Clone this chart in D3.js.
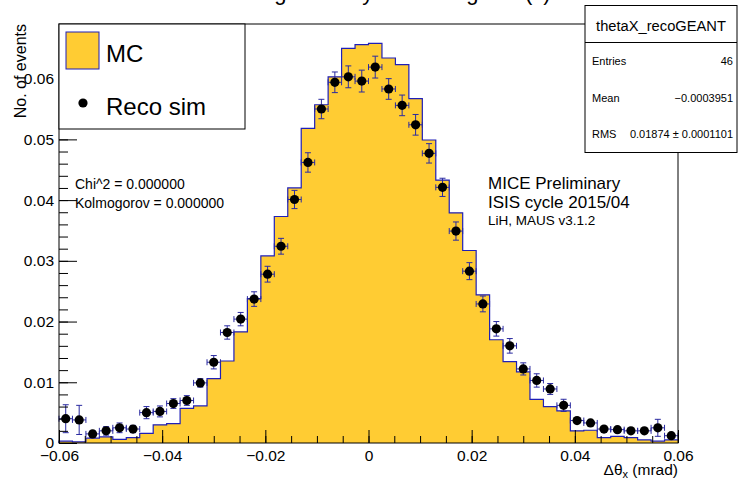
<!DOCTYPE html>
<html>
<head>
<meta charset="utf-8">
<script src="https://cdn.jsdelivr.net/npm/d3@7"></script>
<style>
  body { margin: 0; background: #fff; }
  text { font-family: "Liberation Sans", Arial, sans-serif; fill: #000; }
</style>
</head>
<body>
<script>
// 46 bins from -0.06 to 0.06
const binEdgesRange = [-0.06, 0.06];
const nBins = 46;

const mcValues = [
  0.0003, 0.0002, 0.0008, 0.0010, 0.0006, 0.0009, 0.0016, 0.0030, 0.0032, 0.0057,
  0.0061, 0.0106, 0.0135, 0.0183, 0.0238, 0.0308, 0.0373, 0.0420, 0.0518, 0.0557,
  0.0603, 0.0650, 0.0656, 0.0658, 0.0634, 0.0623, 0.0567, 0.0499, 0.0433, 0.0379,
  0.0317, 0.0244, 0.0170, 0.0134, 0.0117, 0.0072, 0.0060, 0.0053, 0.0020, 0.0021,
  0.0009, 0.0011, 0.0009, 0.0005, 0.0003, 0.0005
];

const recoValues = [
  0.0040, 0.0038, 0.0015, 0.0020, 0.0025, 0.0023, 0.0050, 0.0052, 0.0065, 0.0070,
  0.0099, 0.0133, 0.0182, 0.0204, 0.0237, 0.0278, 0.0324, 0.0401, 0.0462, 0.0550,
  0.0594, 0.0603, 0.0596, 0.0619, 0.0583, 0.0556, 0.0524, 0.0477, 0.0421, 0.0349,
  0.0283, 0.0229, 0.0188, 0.0160, 0.0122, 0.0103, 0.0089, 0.0062, 0.0037, 0.0033,
  0.0023, 0.0022, 0.0020, 0.0020, 0.0025, 0.0012
];

const recoErrors = [
  0.0023, 0.0024, 0.0005, 0.0007, 0.0008, 0.0006, 0.0010, 0.0009, 0.0008, 0.0008,
  0.0007, 0.0011, 0.0011, 0.0011, 0.0012, 0.0013, 0.0013, 0.0015, 0.0016, 0.0016,
  0.0017, 0.0018, 0.0018, 0.0018, 0.0017, 0.0017, 0.0017, 0.0016, 0.0015, 0.0015,
  0.0014, 0.0013, 0.0012, 0.0012, 0.0010, 0.0011, 0.0009, 0.0010, 0.0004, 0.0004,
  0.0003, 0.0003, 0.0003, 0.0003, 0.0014, 0.0003
];

const xMajorTicks = [-0.06, -0.04, -0.02, 0, 0.02, 0.04, 0.06];
const yMajorTicks = [0, 0.01, 0.02, 0.03, 0.04, 0.05, 0.06];

const width = 738, height = 481;
const frame = {left: 59, right: 678, top: 24, bottom: 443};
const yMax = 0.069;
const binWidth = (binEdgesRange[1] - binEdgesRange[0]) / nBins;

const x = d3.scaleLinear().domain(binEdgesRange).range([frame.left, frame.right]);
const y = d3.scaleLinear().domain([0, yMax]).range([frame.bottom, frame.top]);

const fillColor = "#ffcc33";
const lineColor = "#1f1fb8";
const errColor = "#2a2aa0";

const svg = d3.select("body").append("svg")
    .attr("width", width)
    .attr("height", height);

// title, mostly above the canvas
svg.append("text")
    .attr("x", width / 2)
    .attr("y", 0)
    .attr("text-anchor", "middle")
    .style("font-size", "22px")
    .text("Scattering Reco by Scattering MC (x)");

// MC histogram
const mcSteps = mcValues.map((v, i) => ({x: binEdgesRange[0] + i * binWidth, v: v}));
mcSteps.push({x: binEdgesRange[1], v: mcValues[nBins - 1]});

svg.append("path")
    .datum(mcSteps)
    .attr("fill", fillColor)
    .attr("d", d3.area().curve(d3.curveStepAfter)
        .x(d => x(d.x)).y0(y(0)).y1(d => y(d.v)));

const outline = [{x: binEdgesRange[0], v: 0}, ...mcSteps.slice(0, -1), {x: binEdgesRange[1], v: mcValues[nBins - 1]}];
svg.append("path")
    .datum(outline)
    .attr("fill", "none")
    .attr("stroke", lineColor)
    .attr("stroke-width", 1.2)
    .attr("d", d3.line().curve(d3.curveStepAfter).x(d => x(d.x)).y(d => y(d.v)));

// Reco points with error bars
const reco = recoValues.map((v, i) => ({
    c: binEdgesRange[0] + (i + 0.5) * binWidth, v: v, e: recoErrors[i]
}));

const pts = svg.append("g").selectAll("g").data(reco).enter().append("g");
pts.append("line")
    .attr("x1", d => x(d.c - binWidth / 2)).attr("x2", d => x(d.c + binWidth / 2))
    .attr("y1", d => y(d.v)).attr("y2", d => y(d.v))
    .attr("stroke", errColor);
pts.append("line")
    .attr("x1", d => x(d.c)).attr("x2", d => x(d.c))
    .attr("y1", d => y(d.v - d.e)).attr("y2", d => y(d.v + d.e))
    .attr("stroke", errColor);
// caps
pts.each(function (d) {
    const g = d3.select(this);
    [d.v - d.e, d.v + d.e].forEach(val => {
        g.append("line")
            .attr("x1", x(d.c) - 3).attr("x2", x(d.c) + 3)
            .attr("y1", y(val)).attr("y2", y(val))
            .attr("stroke", errColor);
    });
    [d.c - binWidth / 2, d.c + binWidth / 2].forEach(val => {
        g.append("line")
            .attr("x1", x(val)).attr("x2", x(val))
            .attr("y1", y(d.v) - 3).attr("y2", y(d.v) + 3)
            .attr("stroke", errColor);
    });
});
pts.append("circle")
    .attr("cx", d => x(d.c)).attr("cy", d => y(d.v))
    .attr("r", 4.6)
    .attr("fill", "#000");

// frame
svg.append("rect")
    .attr("x", frame.left).attr("y", frame.top)
    .attr("width", frame.right - frame.left).attr("height", frame.bottom - frame.top)
    .attr("fill", "none").attr("stroke", "#000");

// axes
const xMinor = d3.range(-0.06, 0.0601, 0.005);
const yMinor = d3.range(0, 0.0685, 0.002);

const xAxisMinor = svg.append("g")
    .attr("transform", `translate(0,${frame.bottom})`)
    .call(d3.axisBottom(x).tickValues(xMinor).tickSize(-7).tickFormat(""));
const xAxis = svg.append("g")
    .attr("transform", `translate(0,${frame.bottom})`)
    .call(d3.axisBottom(x).tickValues(xMajorTicks).tickSize(-13).tickPadding(7)
        .tickFormat(d => Math.abs(d) < 1e-9 ? "0" : d3.format(".2f")(d)));
const yAxisMinor = svg.append("g")
    .attr("transform", `translate(${frame.left},0)`)
    .call(d3.axisLeft(y).tickValues(yMinor).tickSize(-9).tickFormat(""));
const yAxis = svg.append("g")
    .attr("transform", `translate(${frame.left},0)`)
    .call(d3.axisLeft(y).tickValues(yMajorTicks).tickSize(-18).tickPadding(5)
        .tickFormat(d => d === 0 ? "0" : d3.format(".2f")(d)));

[xAxisMinor, xAxis, yAxisMinor, yAxis].forEach(a => {
    a.select(".domain").remove();
    a.selectAll("line").attr("stroke", "#000");
    a.selectAll("text").style("font-size", "15.5px").attr("font-family", null);
});

// axis titles
svg.append("text")
    .attr("transform", "translate(26,24) rotate(-90)")
    .attr("text-anchor", "end")
    .style("font-size", "16px")
    .text("No. of events");

const xt = svg.append("text")
    .attr("x", frame.right).attr("y", 475)
    .attr("text-anchor", "end")
    .style("font-size", "15.5px");
xt.append("tspan").text("\u0394\u03b8");
xt.append("tspan").attr("dy", 3).style("font-size", "11px").text("x");
xt.append("tspan").attr("dy", -3).text(" (mrad)");

// legend
const legend = svg.append("g");
legend.append("rect")
    .attr("x", 59).attr("y", 24).attr("width", 186).attr("height", 105)
    .attr("fill", "#fff").attr("stroke", "#000");
legend.append("rect")
    .attr("x", 66).attr("y", 32).attr("width", 33).attr("height", 37)
    .attr("fill", fillColor).attr("stroke", lineColor);
legend.append("text").attr("x", 106).attr("y", 61.5).style("font-size", "24px").text("MC");
legend.append("circle").attr("cx", 83).attr("cy", 103).attr("r", 4.6).attr("fill", "#000");
legend.append("text").attr("x", 106).attr("y", 115).style("font-size", "24px").text("Reco sim");

// stats box
const stats = svg.append("g");
stats.append("rect")
    .attr("x", 585).attr("y", 5.5).attr("width", 152).attr("height", 147)
    .attr("fill", "#fff").attr("stroke", "#000");
stats.append("line")
    .attr("x1", 585).attr("x2", 737).attr("y1", 42.5).attr("y2", 42.5)
    .attr("stroke", "#000");
stats.append("text").attr("x", 661).attr("y", 30.5).attr("text-anchor", "middle")
    .style("font-size", "14.7px").text("thetaX_recoGEANT");
const statRows = [
    ["Entries", "46", 65],
    ["Mean", "\u22120.0003951", 102],
    ["RMS", "0.01874 \u00b1 0.0001101", 138]
];
statRows.forEach(r => {
    stats.append("text").attr("x", 592).attr("y", r[2]).style("font-size", "11px").text(r[0]);
    stats.append("text").attr("x", 733).attr("y", r[2]).attr("text-anchor", "end")
        .style("font-size", "11px").text(r[1]);
});

// annotations
svg.append("text").attr("x", 75).attr("y", 189).style("font-size", "14px").text("Chi^2 = 0.000000");
svg.append("text").attr("x", 75).attr("y", 207.5).style("font-size", "14px").text("Kolmogorov = 0.000000");
svg.append("text").attr("x", 488).attr("y", 189).style("font-size", "17px").text("MICE Preliminary");
svg.append("text").attr("x", 488).attr("y", 208).style("font-size", "17px").text("ISIS cycle 2015/04");
svg.append("text").attr("x", 488).attr("y", 225).style("font-size", "13.5px").text("LiH, MAUS v3.1.2");
</script>
</body>
</html>
